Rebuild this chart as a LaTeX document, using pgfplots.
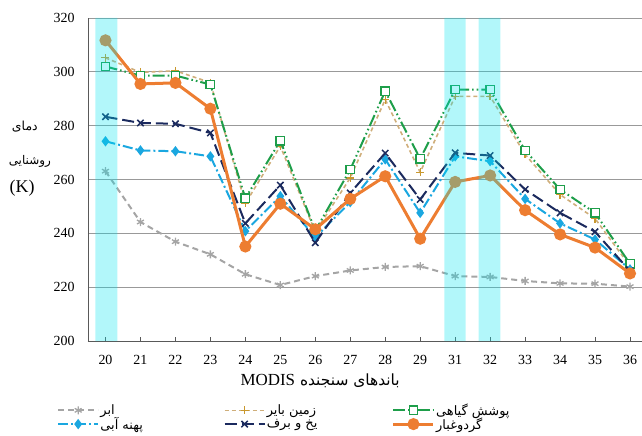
\documentclass[border=0pt]{standalone}
\usepackage{fontspec}
\usepackage{pgfplots}
\pgfplotsset{compat=1.18}
\setmainfont{Liberation Serif}
\newfontfamily\fa[Script=Arabic]{DejaVu Sans}
\TeXXeTstate=1

\definecolor{cOrange}{HTML}{ED7D31}
\definecolor{cGreen}{HTML}{1E9E4A}
\definecolor{cTan}{HTML}{CFAE7A}
\definecolor{cTanMark}{HTML}{C9982E}
\definecolor{cNavy}{HTML}{1B2A5E}
\definecolor{cBlue}{HTML}{1AA7E0}
\definecolor{cGray}{HTML}{A5A5A5}
\definecolor{cBand}{HTML}{00E5F0}

% brightness temperature (K) per MODIS band: 20..29, 31..36
\pgfplotstableread{
i  cloud  bare   veg    water  snow   dust
0  263.1  305.2  302.0  274.2  283.3  311.7
1  244.2  299.8  298.6  270.8  281.0  295.5
2  236.9  300.4  298.6  270.5  280.7  295.9
3  232.2  296.0  295.3  268.6  277.3  286.3
4  224.8  251.1  253.0  240.8  243.7  235.1
5  220.8  272.4  274.4  253.8  257.9  251.0
6  224.1  240.5  241.0  238.5  236.5  241.5
7  226.2  260.6  263.7  251.6  255.0  252.8
8  227.5  289.7  292.8  267.5  269.8  261.2
9  227.8  262.7  267.7  247.6  252.6  238.0
10 224.1  290.9  293.4  268.6  269.9  259.1
11 223.8  290.9  293.4  266.8  268.9  261.5
12 222.3  269.3  270.8  252.8  256.3  248.6
13 221.4  254.4  256.3  243.7  247.6  239.6
14 221.3  245.5  247.6  237.7  240.6  234.7
15 220.2  227.8  228.7  226.6  226.0  225.1
}\tbl

\begin{document}
\begin{tikzpicture}
\begin{axis}[
  at={(0,0)}, anchor=south west,
  scale only axis,
  width=554bp, height=323bp,
  clip mode=individual,
  xmin=-0.5, xmax=15.343,
  ymin=200, ymax=320,
  axis lines*=left,
  axis line style={draw=black!65, line width=0.9bp},
  xtick={0,...,15},
  xticklabels={20,21,22,23,24,25,26,27,28,29,31,32,33,34,35,36},
  ytick={200,220,...,320},
  ymajorgrids,
  grid style={black!40, line width=0.8bp},
  major tick length=4bp,
  xtick style={black!65, line width=0.8bp},
  ytick style={draw=none},
  tick label style={font=\fontsize{14}{16}\selectfont},
  /pgf/number format/assume math mode=true,
  yticklabel style={xshift=-10bp},
  xticklabel style={yshift=-11bp},
  legend columns=3,
  legend style={
    at={(-0.056,-0.190)}, anchor=north west,
    draw=none, fill=none, inner sep=0pt,
    font=\fontsize{13}{14}\selectfont,
    nodes={inner sep=1.2bp},
    row sep=-2bp,
    /tikz/every even column/.append style={column sep=0pt},
  },
  legend cell align=left,
  legend image code/.code={%
    \draw[mark repeat=2,mark phase=2,#1]
      plot coordinates {(0bp,0bp) (20bp,0bp) (40bp,0bp)};},
]

% cloud
\addplot[cGray, line width=2bp, dash pattern=on 6bp off 4bp,
  mark=asterisk, mark size=4bp, mark options={solid, line width=1.3bp}]
  table[x=i, y=cloud] {\tbl};
\addlegendentry{\makebox[122bp][l]{\fa\beginR ابر\endR}}

% bare land
\addplot[cTan, line width=1.6bp, dash pattern=on 4bp off 3bp,
  mark=+, mark size=4bp, mark options={solid, cTanMark, line width=1.3bp}]
  table[x=i, y=bare] {\tbl};
\addlegendentry{\makebox[124bp][l]{\fa\beginR زمین بایر\endR}}

% vegetation
\addplot[cGreen, line width=2bp,
  dash pattern=on 12bp off 3bp on 1.6bp off 3bp on 1.6bp off 3bp,
  mark=square*, mark size=4.2bp, mark options={solid, fill=white, draw=cGreen, line width=1.4bp}]
  table[x=i, y=veg] {\tbl};
\addlegendentry{\fa\beginR پوشش گیاهی\endR}

% water body
\addplot[cBlue, line width=2bp, dash pattern=on 10bp off 3bp on 2bp off 3bp,
  mark=diamond*, mark size=3.6bp, mark options={solid, fill=cBlue}]
  table[x=i, y=water] {\tbl};
\addlegendentry{\makebox[122bp][l]{\fa\beginR پهنه آبی\endR}}

% ice and snow
\addplot[cNavy, line width=2bp, dash pattern=on 12bp off 5bp,
  mark=x, mark size=4.5bp, mark options={solid, line width=1.5bp}]
  table[x=i, y=snow] {\tbl};
\addlegendentry{\makebox[124bp][l]{\fa\beginR یخ و برف\endR}}

% dust
\addplot[cOrange, line width=3bp, solid,
  mark=*, mark size=4.5bp, mark options={fill=cOrange}]
  table[x=i, y=dust] {\tbl};
\addlegendentry{\fa\beginR گردوغبار\endR}

% highlighted bands 20, 31, 32
\addplot[draw=none, fill=cBand, fill opacity=0.3, forget plot]
  coordinates {(-0.29,200) (0.34,200) (0.34,320) (-0.29,320)} \closedcycle;
\addplot[draw=none, fill=cBand, fill opacity=0.3, forget plot]
  coordinates {(9.69,200) (10.30,200) (10.30,320) (9.69,320)} \closedcycle;
\addplot[draw=none, fill=cBand, fill opacity=0.3, forget plot]
  coordinates {(10.67,200) (11.29,200) (11.29,320) (10.67,320)} \closedcycle;

% axis titles
\node[font=\fontsize{15.5}{17}\selectfont] at (axis description cs:0.419,-0.124)
  {\fa\beginR باندهای سنجنده \beginL{\rmfamily\fontsize{17}{19}\selectfont MODIS}\endL\endR};
\node[font=\fontsize{12.5}{14}\selectfont] at (axis description cs:-0.114,0.663)
  {\fa\beginR دمای\endR};
\node[font=\fontsize{12}{14}\selectfont] at (axis description cs:-0.105,0.557)
  {\fa\beginR روشنایی\endR};
\node[font=\fontsize{18}{20}\selectfont] at (axis description cs:-0.119,0.474)
  {(K)};
\end{axis}
\pgfresetboundingbox
\path[use as bounding box] (-88bp,-95bp) rectangle (554bp,341bp);
\end{tikzpicture}
\end{document}
